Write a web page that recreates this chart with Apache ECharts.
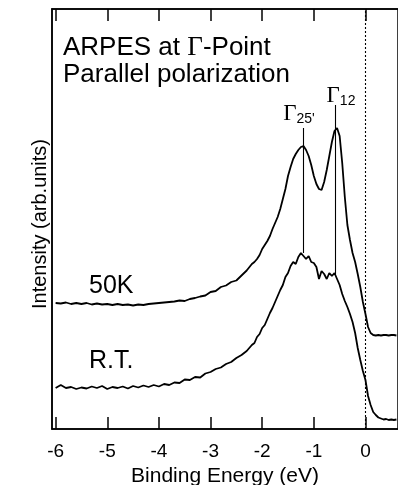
<!DOCTYPE html>
<html>
<head>
<meta charset="utf-8">
<script src="https://cdn.jsdelivr.net/npm/echarts@6/dist/echarts.min.js"></script>
<style>
html,body{margin:0;padding:0;background:#fff;}
#chart{width:398px;height:485px;}
</style>
</head>
<body>
<div id="chart"></div>
<script>
// Binding energy grid (eV)
const energy = [-6.0,-5.9,-5.8,-5.7,-5.6,-5.5,-5.4,-5.3,-5.2,-5.1,-5.0,-4.9,-4.8,-4.7,-4.6,-4.5,-4.4,-4.3,-4.2,-4.1,-4.0,-3.9,-3.8,-3.7,-3.6,-3.5,-3.4,-3.3,-3.2,-3.1,-3.0,-2.9,-2.8,-2.7,-2.6,-2.5,-2.4,-2.3,-2.2,
  -2.15,-2.1,-2.05,-2.0,-1.95,-1.9,-1.85,-1.8,-1.75,-1.7,-1.65,-1.6,-1.55,-1.5,-1.45,-1.4,-1.35,-1.3,-1.25,-1.2,-1.15,-1.1,-1.05,-1.0,-0.95,-0.9,-0.85,-0.8,-0.75,-0.7,-0.65,-0.6,-0.55,-0.5,-0.45,-0.4,-0.35,-0.3,-0.25,-0.2,-0.15,-0.1,-0.05,0.0,0.05,0.1,0.15,0.2,0.25,0.3,0.35,0.4,0.45,0.5,0.55,0.6];

// 50K spectrum (arb. units, offset)
const int50K = [12.6,12.55,12.65,12.5,12.6,12.5,12.6,12.45,12.55,12.45,12.5,12.4,12.5,12.4,12.45,12.35,12.45,12.4,12.5,12.55,12.6,12.65,12.7,12.75,12.85,12.8,13.0,13.1,13.25,13.35,13.7,13.8,14.2,14.35,14.7,14.85,15.35,15.85,16.5,
  16.7,17.0,17.4,18.0,18.4,18.8,19.3,20.0,20.6,21.2,22.0,23.0,24.0,25.3,26.2,27.0,27.5,27.9,28.2,28.3,27.9,27.3,26.4,25.3,24.5,24.0,23.9,24.7,25.9,27.3,28.7,29.8,30.1,29.3,26.6,23.2,20.4,18.9,17.6,16.7,15.5,14.2,12.7,11.5,10.2,9.6,9.4,9.35,9.4,9.35,9.4,9.4,9.35,9.4,9.4,9.35];

// Room-temperature spectrum (arb. units)
const intRT = [4.1,4.4,4.1,4.2,4.0,4.15,4.05,4.25,4.1,4.3,4.0,4.2,4.1,4.25,4.05,4.3,4.15,4.35,4.2,4.4,4.25,4.5,4.4,4.65,4.6,4.95,4.9,5.2,5.15,5.55,5.7,6.0,6.15,6.5,6.7,7.1,7.4,7.8,8.4,
  8.6,9.2,9.5,10.1,10.4,11.0,11.6,12.1,12.7,13.3,13.9,14.4,15.2,15.6,16.3,16.7,16.5,17.2,17.6,17.3,17.0,17.3,16.7,16.6,16.2,15.0,15.8,15.5,15.0,15.6,15.3,15.6,15.0,14.4,13.5,12.8,12.2,11.5,10.7,9.6,8.1,6.9,5.8,4.9,3.3,2.4,1.7,1.4,1.15,1.05,0.95,1.0,0.9,0.95,0.9,0.95];

// Axis ticks
const xTicks = [-6,-5,-4,-3,-2,-1,0];
const fermiLevel = 0;
const yMin = 0, yMax = 42;

// Peak markers
const peakNames = ['25\'', '12'];
const peakEnergy = [-1.21, -0.59];
const peakTop = [30.1, 32.4];
const peakBottom = [17.6, 15.5];

const seriesLabels = ['50K', 'R.T.'];

const FONT = '"Liberation Sans", Arial, Helvetica, sans-serif';
const SERIF = '"Liberation Serif", "DejaVu Serif", serif';

const chart = echarts.init(document.getElementById('chart'), null, {renderer: 'canvas'});

const pairs = (xs, ys) => xs.map((x, i) => [x, ys[i]]);

const markLines = peakEnergy.map((e, i) => [
  {coord: [e, peakTop[i]],
   label: {show: true, position: 'start', formatter: '{g|\u0393}{s|' + peakNames[i] + '}',
     offset: i === 0 ? [-4, 3] : [6, 8],
     rich: {
       g: {fontFamily: SERIF, fontSize: 23, color: '#000'},
       s: {fontFamily: FONT, fontSize: 14, color: '#000', padding: [10, 0, 0, 0]}
     }}},
  {coord: [e, peakBottom[i]]}
]);

// inward ticks (12 px long = 1.2 data units on the 10 px/unit intensity scale)
const tickLen = 1.2;
const tickSolid = {type: 'solid', width: 1.5, color: '#000'};
const tickLines = [];
xTicks.forEach(t => {
  tickLines.push([{coord: [t, yMin], lineStyle: tickSolid}, {coord: [t, yMin + tickLen]}]);
  tickLines.push([{coord: [t, yMax], lineStyle: tickSolid}, {coord: [t, yMax - tickLen]}]);
});

const xCommon = {
  type: 'value', min: -6.07, max: 0.63,
  axisLine: {show: true, onZero: false, lineStyle: {color: '#000', width: 1.5}},
  axisTick: {show: false},
  splitLine: {show: false}
};

const option = {
  animation: false,
  backgroundColor: '#fff',
  grid: {left: 52, right: 0, top: 9, bottom: 56, outerBoundsMode: 'none', containLabel: false,
    show: true, borderColor: '#000', borderWidth: 1.5, backgroundColor: 'transparent'},
  xAxis: [
    Object.assign({}, xCommon, {
      position: 'bottom',
      name: 'Binding Energy (eV)', nameLocation: 'middle', nameGap: 30,
      nameTextStyle: {fontFamily: FONT, fontSize: 21, color: '#000'},
      axisLabel: {show: true, customValues: xTicks, margin: 13, fontFamily: FONT, fontSize: 19, color: '#000',
        formatter: v => String(v)}
    }),
    Object.assign({}, xCommon, {
      position: 'top',
      axisLabel: {show: false}
    })
  ],
  yAxis: [
    {type: 'value', min: yMin, max: yMax, position: 'left',
     axisLine: {show: true, onZero: false, lineStyle: {color: '#000', width: 1.5}},
     axisTick: {show: false}, axisLabel: {show: false}, splitLine: {show: false}}
  ],
  series: [
    {type: 'line', name: seriesLabels[0], data: pairs(energy, int50K), showSymbol: false,
     lineStyle: {color: '#000', width: 1.8}, silent: true,
     markLine: {silent: true, symbol: ['none', 'none'], animation: false,
       lineStyle: {color: '#000', width: 1.1, type: 'solid'},
       data: markLines.concat(tickLines)}},
    {type: 'line', name: seriesLabels[1], data: pairs(energy, intRT), showSymbol: false,
     lineStyle: {color: '#000', width: 1.8}, silent: true,
     markLine: {silent: true, symbol: ['none', 'none'], animation: false,
       label: {show: false},
       lineStyle: {color: '#000', width: 1.1, type: [2, 2]},
       data: [{xAxis: fermiLevel}]}}
  ],
  graphic: [
    {type: 'text', left: 63, top: 34, style: {
      text: '{a|ARPES at }{g|\u0393}{a|-Point}\n{a|Parallel polarization}',
      rich: {
        a: {fontFamily: FONT, fontSize: 26, lineHeight: 27, fill: '#000', color: '#000'},
        g: {fontFamily: SERIF, fontSize: 27, lineHeight: 27, fill: '#000', color: '#000'}
      }}},
    {type: 'text', x: 40, y: 224, rotation: Math.PI / 2, style: {
      text: 'Intensity (arb.units)', font: '20px ' + FONT, fill: '#000', align: 'center', verticalAlign: 'middle'}},
    {type: 'text', left: 89, top: 274, style: {text: seriesLabels[0], font: '25px ' + FONT, fill: '#000'}},
    {type: 'text', left: 89, top: 349, style: {text: seriesLabels[1], font: '25px ' + FONT, fill: '#000'}}
  ]
};
chart.setOption(option);
</script>
</body>
</html>
